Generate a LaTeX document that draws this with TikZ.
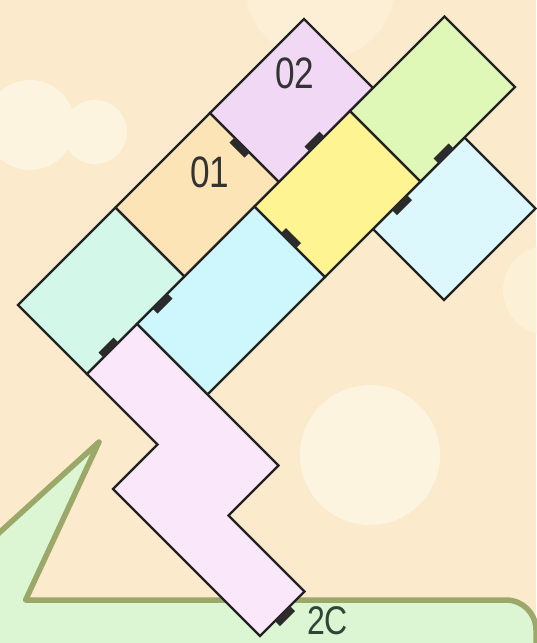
\documentclass[tikz,border=0pt]{standalone}
\usepackage{fontspec}
\setmainfont{Liberation Sans}
\definecolor{bgc}{HTML}{FBEACB}
\definecolor{cloudc}{HTML}{FDF4E0}
\definecolor{gfill}{HTML}{DCF5D2}
\definecolor{gline}{HTML}{9BA86A}
\definecolor{wallc}{HTML}{222222}
\definecolor{doorc}{HTML}{2B2B2B}
\definecolor{cmint}{HTML}{D3F8EA}
\definecolor{cpeach}{HTML}{FCE4B6}
\definecolor{clav}{HTML}{F1D9F6}
\definecolor{ccyan}{HTML}{CDF7FC}
\definecolor{cyellow}{HTML}{FEF592}
\definecolor{cgreen}{HTML}{DFF7B7}
\definecolor{clcyan}{HTML}{DDF8FD}
\definecolor{cpink}{HTML}{FBE7FA}
\definecolor{txtc}{HTML}{333333}
\definecolor{txtg}{HTML}{2E4636}
\newcommand{\plandoor}[4]{\fill[doorc] (#1,#2) -- (#3,#2) -- (#3,#4) -- (#1,#4) -- cycle;}
\tikzset{
  room/.style={draw=wallc, line width=2.4pt, line join=miter},
  roomlabel/.style={text=txtc, font=\fontsize{44}{44}\selectfont, inner sep=0pt},
}
\begin{document}
\begin{tikzpicture}[x=1pt,y=-1pt]
\useasboundingbox (0,0) rectangle (536,643);
\fill[bgc] (0,0) rectangle (536,643);
% faint clouds
\fill[cloudc] (30,125) circle (45);
\fill[cloudc] (95,132) circle (32);
\fill[cloudc, opacity=0.5] (320,-15) circle (75);
\fill[cloudc, opacity=0.6] (548,290) circle (45);
\fill[cloudc] (370,455) circle (70);
% green area
\fill[gfill] (0,532) -- (99,442) -- (25.6,600) -- (506,600)
  .. controls (522.6,600) and (536,613.4) .. (536,630) -- (536,643) -- (0,643) -- cycle;
\draw[gline, line width=5.5pt, line join=round] (-6,537.5) -- (99,442) -- (25.6,600) -- (506,600)
  .. controls (522.6,600) and (536,613.4) .. (536,630) -- (536,650);
% plan in rotated coordinates (a,b)
\begin{scope}[x={(0.5pt,-0.5pt)}, y={(0.5pt,0.5pt)}]
  \draw[room, fill=clcyan] (602,144) -- (744,144) -- (744,327) -- (602,327) -- cycle;
  \draw[room, fill=cmint] (323,-287) -- (461,-287) -- (461,-92) -- (323,-92) -- cycle;
  \draw[room, fill=cpeach] (323,-92) -- (461,-92) -- (461,97) -- (323,97) -- cycle;
  \draw[room, fill=clav] (323,97) -- (461,97) -- (461,285) -- (323,285) -- cycle;
  \draw[room, fill=ccyan] (461,-187) -- (602,-187) -- (602,48) -- (461,48) -- cycle;
  \draw[room, fill=cyellow] (461,48) -- (602,48) -- (602,239) -- (461,239) -- cycle;
  \draw[room, fill=cgreen] (461,239) -- (602,239) -- (602,428) -- (461,428) -- cycle;
  \draw[room, fill=cpink] (461,-287) -- (461,-187) -- (744,-187) -- (744,-287) -- (896,-287)
     -- (896,-376) -- (602,-376) -- (602,-287) -- cycle;
  % doors
  \plandoor{372}{87}{402}{97.5}
  \plandoor{451}{158}{461.5}{188}
  \plandoor{592}{275}{602.5}{305}
  \plandoor{601.5}{182}{612}{212}
  \plandoor{514}{47.5}{544}{58}
  \plandoor{460.5}{-156}{471}{-126}
  \plandoor{451}{-254}{461.5}{-224}
  \plandoor{895.5}{-346}{906}{-316}
\end{scope}
% labels
\node[roomlabel] (l02) at (295,73.5) {\scalebox{0.8}[1]{02}};
\node[roomlabel] (l01) at (210,172.5) {\scalebox{0.8}[1]{01}};
\node[roomlabel, text=txtg, font=\fontsize{40}{40}\selectfont] (l2c) at (327.5,621) {\scalebox{0.8}[1]{2C}};
\end{tikzpicture}
\end{document}
